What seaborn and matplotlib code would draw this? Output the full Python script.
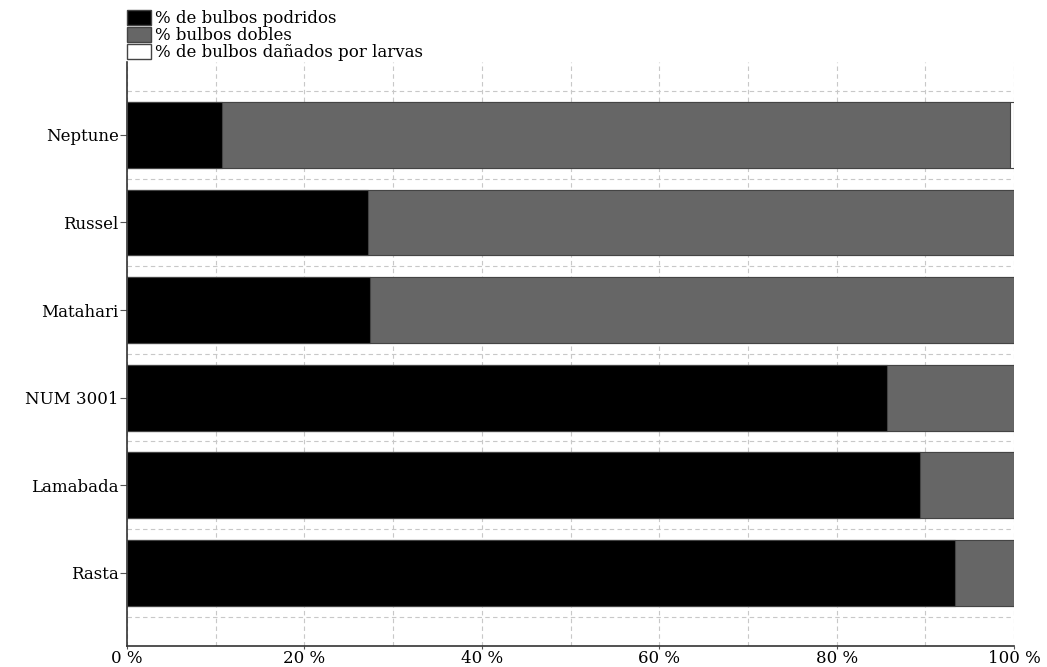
import numpy as np
import pandas as pd
import matplotlib.pyplot as plt
import seaborn as sns
from matplotlib.patches import Patch

# Data (% of bulbs per variety)
variedades = ["Neptune", "Russel", "Matahari", "NUM 3001", "Lamabada", "Rasta"]
podridos = [10.7, 27.2, 27.4, 85.7, 89.4, 93.3]
dobles = [88.9, 72.8, 72.6, 14.3, 10.6, 6.7]
larvas = [0.4, 0.0, 0.0, 0.0, 0.0, 0.0]

df = pd.DataFrame({"variedad": variedades, "podridos": podridos,
                   "dobles": dobles, "larvas": larvas})
df["cum_dobles"] = df["podridos"] + df["dobles"]
df["cum_larvas"] = df["cum_dobles"] + df["larvas"]

sns.set_style("white")
plt.rcParams["font.family"] = ["DejaVu Serif", "Liberation Serif"]
plt.rcParams["text.color"] = "black"
plt.rcParams["xtick.labelcolor"] = "black"
plt.rcParams["ytick.labelcolor"] = "black"

fig = plt.figure(figsize=(10.47, 6.67), dpi=100)
ax = fig.add_axes([0.1213, 0.032, 0.8472, 0.875])

# Stacked bars: draw cumulative totals from back to front
sns.barplot(data=df, y="variedad", x="cum_larvas", color="white", width=0.75,
            edgecolor="#444444", linewidth=0.8, ax=ax, zorder=2)
sns.barplot(data=df, y="variedad", x="cum_dobles", color="#666666", width=0.75,
            edgecolor="#444444", linewidth=0.8, ax=ax, zorder=3, saturation=1)
sns.barplot(data=df, y="variedad", x="podridos", color="black", width=0.75,
            edgecolor="#444444", linewidth=0.8, ax=ax, zorder=4, saturation=1)

ax.set_xlim(0, 100)
ax.set_ylim(5.83, -0.83)
ax.set_xticks(np.arange(0, 101, 20))
ax.set_xticklabels([f"{v} %" for v in range(0, 101, 20)])
ax.set_xticks(np.arange(0, 101, 10), minor=True)
ax.set_yticks(np.arange(-0.5, 6, 1), minor=True)

ax.grid(True, which="both", axis="x", linestyle=(0, (4, 3)), color="#c8c8c8", linewidth=0.8, zorder=0)
ax.grid(True, which="both", axis="y", linestyle=(0, (4, 3)), color="#c8c8c8", linewidth=0.8, zorder=0)
ax.set_axisbelow(True)

ax.set_xlabel("")
ax.set_ylabel("")
sns.despine(ax=ax, top=True, right=True)
for s in ["left", "bottom"]:
    ax.spines[s].set_color("#333333")
    ax.spines[s].set_linewidth(1.2)

ax.tick_params(axis="y", which="major", direction="out", length=5, width=0.8,
               color="#555555", labelsize=12, pad=1, left=True)
ax.tick_params(axis="x", which="major", direction="out", length=2, width=0.8,
               color="#555555", labelsize=12, pad=1, bottom=True)
ax.tick_params(axis="both", which="minor", length=0)

handles = [Patch(facecolor="black", edgecolor="#444444", label="% de bulbos podridos"),
           Patch(facecolor="#666666", edgecolor="#444444", label="% bulbos dobles"),
           Patch(facecolor="white", edgecolor="#444444", label="% de bulbos dañados por larvas")]
fig.legend(handles=handles, loc="upper left", bbox_to_anchor=(0.117, 0.993),
           frameon=False, fontsize=12, handlelength=1.4, handleheight=1.0,
           handletextpad=0.25, labelspacing=0.0, borderpad=0.3, borderaxespad=0.0)

fig.savefig("out.png", dpi=100)
